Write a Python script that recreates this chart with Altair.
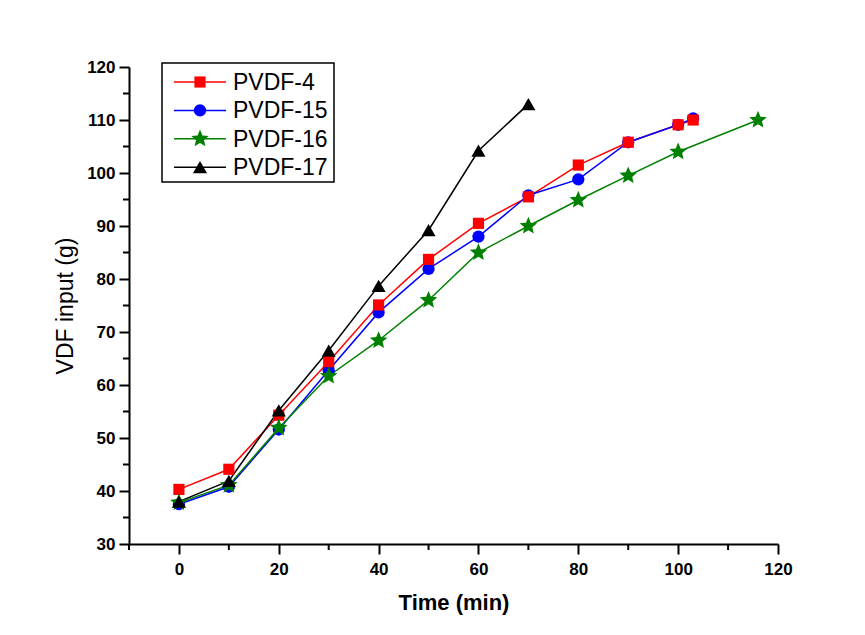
import altair as alt
import pandas as pd

series = ["PVDF-4", "PVDF-15", "PVDF-16", "PVDF-17"]
colors = ["#FF0000", "#0000FF", "#008000", "#000000"]
STAR = ("M0,-1 L0.265,-0.364 L0.951,-0.309 L0.428,0.139 L0.588,0.809 L0,0.45 "
        "L-0.588,0.809 L-0.428,0.139 L-0.951,-0.309 L-0.265,-0.364 Z")
shapes = ["square", "circle", STAR, "triangle-up"]
msizes = [125, 150, 340, 200]

t4 = [0, 10, 20, 30, 40, 50, 60, 70, 80, 90, 100, 103]
v4 = [40.3, 44.1, 54.3, 64.4, 75.1, 83.7, 90.5, 95.5, 101.5, 105.8, 109.1, 110.0]
t15 = [0, 10, 20, 30, 40, 50, 60, 70, 80, 90, 100, 103]
v15 = [37.5, 40.8, 51.6, 62.8, 73.7, 81.9, 88.0, 95.8, 98.8, 105.8, 109.1, 110.3]
t16 = [0, 10, 20, 30, 40, 50, 60, 70, 80, 90, 100, 116]
v16 = [37.8, 41.1, 51.9, 61.7, 68.4, 76.0, 85.0, 90.0, 94.9, 99.5, 104.0, 110.0]
t17 = [0, 10, 20, 30, 40, 50, 60, 70]
v17 = [38.0, 41.9, 55.2, 66.5, 78.7, 89.2, 104.2, 113.0]

x_major = [0, 20, 40, 60, 80, 100, 120]
x_minor = [-10, 10, 30, 50, 70, 90, 110]
y_major = [30, 40, 50, 60, 70, 80, 90, 100, 110, 120]
y_minor = [35, 45, 55, 65, 75, 85, 95, 105, 115]

times = [t4, t15, t16, t17]
vals = [v4, v15, v16, v17]

W, H = 649, 477
FONT = "Liberation Sans"

xs = alt.Scale(domain=[-10, 120], nice=False, zero=False)
ys = alt.Scale(domain=[30, 120], nice=False, zero=False)

xaxis = alt.Axis(values=x_major, title="Time (min)", titleFont=FONT, titleFontSize=22,
                 titleFontWeight="bold", titleColor="black", titlePadding=15,
                 labelFont=FONT, labelFontSize=17, labelFontWeight="bold", labelColor="black",
                 labelPadding=7, tickSize=10, tickWidth=2, tickColor="black",
                 domainColor="black", domainWidth=2, grid=False, labelFlush=False)
yaxis = alt.Axis(values=y_major, title="VDF input (g)", titleFont=FONT, titleFontSize=23,
                 titleFontWeight="normal", titleColor="black", titlePadding=9,
                 labelFont=FONT, labelFontSize=17, labelFontWeight="bold", labelColor="black",
                 labelPadding=4, tickSize=10, tickWidth=2, tickColor="black",
                 domainColor="black", domainWidth=2, grid=False, labelFlush=False)

dfs = [pd.DataFrame({"t": t, "v": v, "series": s}) for t, v, s in zip(times, vals, series)]

layers = []
# minor ticks
layers.append(alt.Chart(pd.DataFrame({"t": x_minor})).mark_rule(color="black", strokeWidth=2).encode(
    x=alt.X("t:Q", scale=xs, axis=xaxis), y=alt.value(H), y2=alt.value(H + 6)))
layers.append(alt.Chart(pd.DataFrame({"v": y_minor})).mark_rule(color="black", strokeWidth=2).encode(
    y=alt.Y("v:Q", scale=ys, axis=yaxis), x=alt.value(0), x2=alt.value(-6)))

# lines
for df, c in zip(dfs, colors):
    layers.append(alt.Chart(df).mark_line(color=c, strokeWidth=1.5).encode(
        x=alt.X("t:Q", scale=xs, axis=xaxis), y=alt.Y("v:Q", scale=ys, axis=yaxis)))

# points (draw order: blue, red, green, black)
for i in [1, 0, 2, 3]:
    layers.append(alt.Chart(dfs[i]).mark_point(
        shape=shapes[i], filled=True, size=msizes[i], color=colors[i], opacity=1, strokeWidth=0).encode(
        x=alt.X("t:Q", scale=xs, axis=xaxis), y=alt.Y("v:Q", scale=ys, axis=yaxis)))

# legend box
box = pd.DataFrame({"k": [1]})
layers.append(alt.Chart(box).mark_rect(fill="white", stroke="black", strokeWidth=1.5).encode(
    x=alt.value(33), x2=alt.value(205), y=alt.value(-4), y2=alt.value(115)))

for i, s in enumerate(series):
    ly = 15 + i * 28.4
    d = pd.DataFrame({"series": [s]})
    layers.append(alt.Chart(d).mark_rule(color=colors[i], strokeWidth=1.5).encode(
        x=alt.value(45), x2=alt.value(97), y=alt.value(ly)))
    layers.append(alt.Chart(d).mark_point(shape=shapes[i], filled=True, size=msizes[i],
                                          color=colors[i], opacity=1, strokeWidth=0).encode(
        x=alt.value(71), y=alt.value(ly)))
    layers.append(alt.Chart(d).mark_text(align="left", baseline="middle", font=FONT,
                                         fontSize=23, color="black").encode(
        x=alt.value(104), y=alt.value(ly + 1), text="series:N"))

chart = alt.layer(*layers).properties(
    width=W, height=H,
    autosize=alt.AutoSizeParams(type="none"),
    padding={"left": 121, "top": 59, "right": 79, "bottom": 80},
    background="white",
).configure_view(stroke=None)

chart.save("out.html", embed_options={"renderer": "svg", "actions": False})
